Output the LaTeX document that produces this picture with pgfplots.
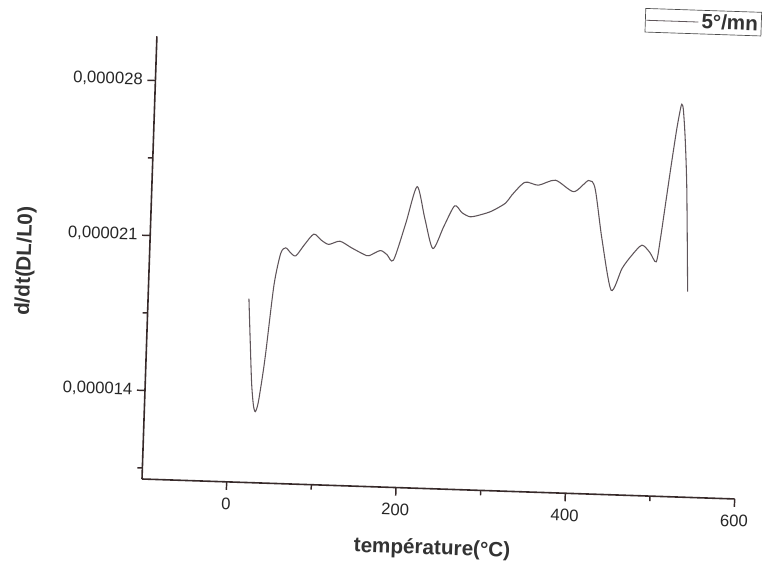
\documentclass[border=0pt]{standalone}
\usepackage{pgfplots}
\pgfplotsset{compat=1.18}
\usepackage{fontspec}
\setmainfont{Liberation Sans}
\definecolor{axiscol}{RGB}{55,42,42}
\definecolor{curvecol}{RGB}{95,85,90}
\begin{document}
\begin{tikzpicture}
\useasboundingbox (0,0) rectangle (571.5pt,422.25pt);
\begin{scope}[rotate around={-1.93:(106.5pt,63pt)}]
\begin{axis}[
  at={(106.5pt,63pt)}, anchor=south west,
  scale only axis, width=444.75pt, height=332.25pt,
  xmin=-100, xmax=600, ymin=0.00001, ymax=0.00003,
  axis x line*=bottom, axis y line*=left,
  axis line style={line width=1.2pt, color=axiscol},
  tick align=outside,
  major tick length=6pt, minor tick length=3.75pt,
  every tick/.style={line width=1.1pt, color=axiscol},
  xtick={0,200,400,600}, minor xtick={100,300,500},
  ytick={0.000014,0.000021,0.000028},
  yticklabels={{0,000014},{0,000021},{0,000028}},
  minor ytick={0.0000105,0.0000175,0.0000245},
  scaled y ticks=false,
  /pgf/number format/assume math mode=true,
  ticklabel style={font=\fontsize{12.5}{14}\selectfont, color=black!85},
  xticklabel style={yshift=-2.5pt},
  xlabel={température(°C)},
  ylabel={d/dt(DL/L0)},
  every axis x label/.style={at={(axis description cs:0.4927,-0.1359)}, anchor=center, font=\fontsize{15.5}{17}\selectfont\bfseries, color=black!80},
  every axis y label/.style={at={(axis description cs:-0.209,0.4828)}, rotate=90, anchor=center, font=\fontsize{15.5}{17}\selectfont\bfseries, color=black!80},
  legend style={at={(axis description cs:1.0185,1.1007)}, anchor=north east,
    draw=black!70, line width=0.5pt, inner xsep=0.5pt, inner ysep=0.5pt,
    font=\fontsize{15.5}{17}\selectfont\bfseries, text=black!80},
  legend image code/.code={\draw[#1, line width=0.6pt] (-2pt,0pt) -- (37pt,0pt);},
]
\addplot[color=curvecol, line width=0.8pt, smooth, tension=0.45] coordinates {
(19,0.00001830) (22,0.00001650) (25.5,0.00001450) (28.5,0.00001350) (31,0.00001321)
(34,0.00001360) (38,0.00001480) (41,0.00001590) (48,0.00001895) (54.7,0.00002039)
(60.3,0.00002065) (66,0.00002045) (72.5,0.00002030) (82,0.00002080) (93,0.00002131)
(102,0.00002105) (111,0.00002087) (124,0.00002103) (138,0.00002075) (153,0.00002047)
(159,0.00002042) (172,0.00002067) (180,0.00002050) (188,0.00002026) (201,0.00002193)
(213,0.00002361) (223.3,0.00002219) (234,0.00002084) (246,0.00002185) (258,0.00002280)
(267,0.00002250) (277,0.00002233) (290,0.00002245) (302,0.00002262) (318,0.00002300)
(325,0.00002337) (340,0.00002397) (356,0.00002386) (376,0.00002411) (398,0.00002362)
(415,0.00002415) (423,0.00002380) (433,0.00002155) (446,0.00001923) (458,0.00002023)
(469,0.00002084) (480.5,0.00002131) (490,0.00002100) (498,0.00002058) (502,0.00002160)
(507,0.00002330) (512,0.00002500) (517,0.00002660) (520.5,0.00002750) (522,0.00002773)
(524,0.00002750) (527.3,0.00002620) (531.2,0.00002394) (536.3,0.00001928)
};
\addlegendentry{5°/mn}
\end{axis}
\end{scope}
\end{tikzpicture}
\end{document}
